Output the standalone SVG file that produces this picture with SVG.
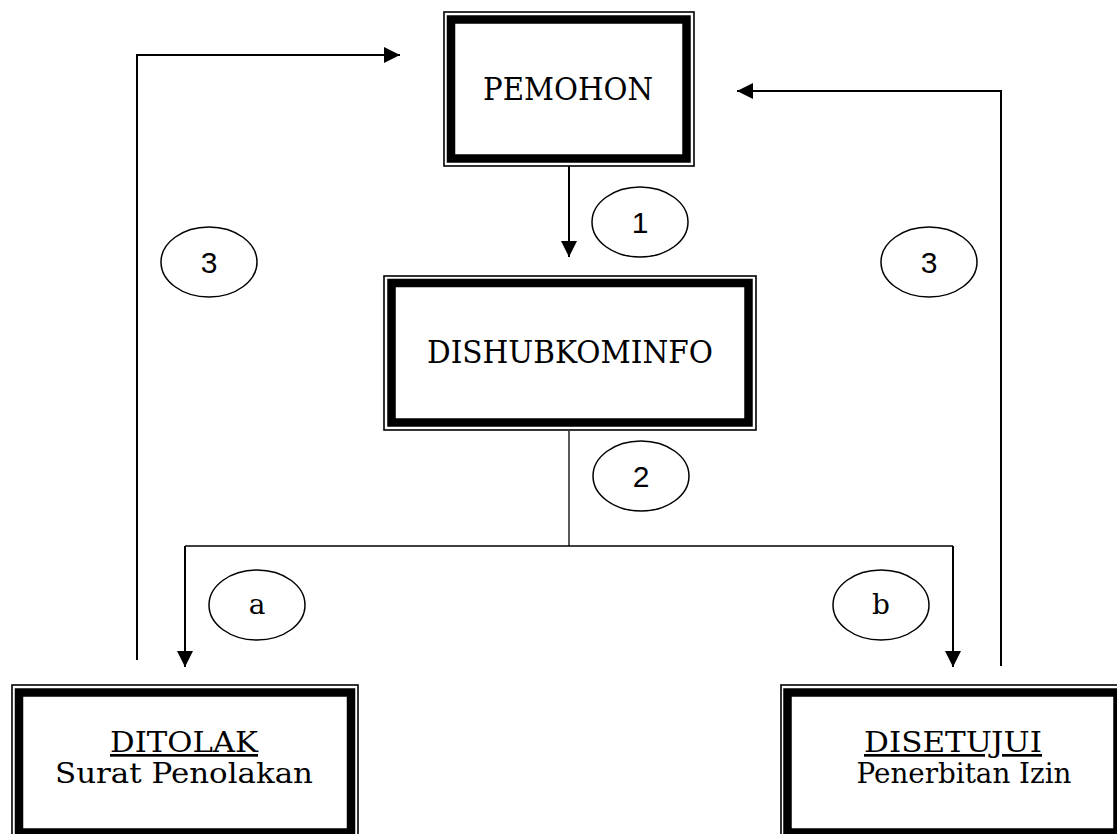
<svg xmlns="http://www.w3.org/2000/svg" width="1117" height="834" viewBox="0 0 1117 834">
<defs>
<style>
.thin{fill:none;stroke:#000;stroke-width:1.6}
.thick{fill:none;stroke:#000;stroke-width:8.5}
.bt{font-family:"DejaVu Serif","Liberation Serif",serif;font-size:31px;fill:#000;text-anchor:middle}
.bs{font-family:"DejaVu Serif","Liberation Serif",serif;font-size:27px;fill:#000;text-anchor:middle}
.ell{fill:#fff;stroke:#000;stroke-width:1.5}
.num{font-family:"Liberation Sans",Arial,sans-serif;font-size:30px;fill:#000;text-anchor:middle}
.let{font-family:"DejaVu Serif","Liberation Serif",serif;font-size:28px;fill:#000;text-anchor:middle}
.conn{fill:none;stroke:#000;stroke-width:2}
.conn1{fill:none;stroke:#000;stroke-width:1.3}
</style>
<marker id="ah" viewBox="0 0 16 16" refX="16" refY="8" markerWidth="16" markerHeight="16" markerUnits="userSpaceOnUse" orient="auto">
<path d="M0,0 L16,8 L0,16 Z" fill="#000"/>
</marker>
</defs>
<rect width="1117" height="834" fill="#fff"/>
<g id="connectors">
<line class="conn" x1="569" y1="166" x2="569" y2="257" marker-end="url(#ah)"/>
<polyline class="conn1" points="569,431 569,546"/>
<polyline class="conn1" points="185,546 953,546"/>
<line class="conn" x1="185" y1="546" x2="185" y2="667" marker-end="url(#ah)"/>
<line class="conn" x1="953" y1="546" x2="953" y2="667" marker-end="url(#ah)"/>
<polyline class="conn" points="137,660 137,55 400,55" marker-end="url(#ah)"/>
<polyline class="conn" points="1001,666 1001,91 737,91" marker-end="url(#ah)"/>
</g>
<g id="node-pemohon">
<rect class="thin" x="444" y="12" width="250" height="154"/>
<rect class="thick" x="451" y="19.5" width="235.5" height="139"/>
<text class="bt" x="568" y="100" textLength="170" lengthAdjust="spacingAndGlyphs">PEMOHON</text>
</g>
<g id="node-dishubkominfo">
<rect class="thin" x="384" y="276" width="372" height="154"/>
<rect class="thick" x="391.5" y="283" width="357" height="139.5"/>
<text class="bt" x="570" y="363" textLength="286" lengthAdjust="spacingAndGlyphs">DISHUBKOMINFO</text>
</g>
<g id="node-ditolak">
<rect class="thin" x="12" y="685" width="346" height="160"/>
<rect class="thick" x="19" y="692.5" width="332" height="140"/>
<text class="bs" x="184" y="752" textLength="148" lengthAdjust="spacingAndGlyphs" text-decoration="underline">DITOLAK</text>
<text class="bs" x="184" y="783" textLength="258" lengthAdjust="spacingAndGlyphs">Surat Penolakan</text>
</g>
<g id="node-disetujui">
<rect class="thin" x="781" y="685" width="346" height="160"/>
<rect class="thick" x="787.5" y="692.5" width="330" height="140"/>
<text class="bs" x="953" y="752" textLength="178" lengthAdjust="spacingAndGlyphs" text-decoration="underline">DISETUJUI</text>
<text class="bs" x="964" y="783" textLength="215" lengthAdjust="spacingAndGlyphs">Penerbitan Izin</text>
</g>
<g id="label-1">
<ellipse class="ell" cx="640" cy="222" rx="48" ry="35"/>
<text class="num" x="640" y="233">1</text>
</g>
<g id="label-3-left">
<ellipse class="ell" cx="209" cy="262" rx="48" ry="35"/>
<text class="num" x="209" y="273">3</text>
</g>
<g id="label-3-right">
<ellipse class="ell" cx="929" cy="262" rx="48" ry="35"/>
<text class="num" x="929" y="273">3</text>
</g>
<g id="label-2">
<ellipse class="ell" cx="641" cy="476" rx="48" ry="35"/>
<text class="num" x="641" y="487">2</text>
</g>
<g id="label-a">
<ellipse class="ell" cx="257" cy="605" rx="48" ry="35"/>
<text class="let" x="257" y="614">a</text>
</g>
<g id="label-b">
<ellipse class="ell" cx="881" cy="605" rx="48" ry="35"/>
<text class="let" x="881" y="614">b</text>
</g>
</svg>
